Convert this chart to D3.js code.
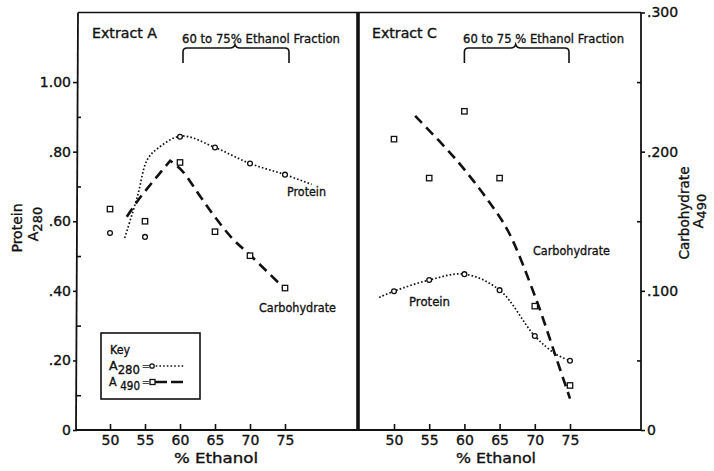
<!DOCTYPE html>
<html><head><meta charset="utf-8">
<script src="https://cdn.jsdelivr.net/npm/d3@7"></script>
<style>
html,body{margin:0;padding:0;background:#fff;}
svg{display:block;}
text{font-family:"DejaVu Sans",sans-serif;fill:#111;stroke:#111;stroke-width:0.35px;}
</style></head>
<body>
<svg id="c" width="714" height="471"></svg>
<script>
// ---- data ----
const ethanol = [50, 55, 60, 65, 70, 75];
const xTickLabels = ["50", "55", "60", "65", "70", "75"];
// Extract A (left panel) – A280 protein circles, A490 carbohydrate squares (left axis units)
const aProtein = [0.566, 0.555, 0.843, 0.812, 0.766, 0.734];
const aCarb    = [0.635, 0.600, 0.769, 0.570, 0.501, 0.408];
// Extract A hand-drawn curves
const aProteinCurveX = [52.1, 53.9, 55.3, 56.8, 60.2, 65, 70, 75, 78.8];
const aProteinCurveY = [0.552, 0.670, 0.776, 0.809, 0.845, 0.812, 0.766, 0.734, 0.706];
// carbohydrate curve of Extract A: rising limb and falling limb meet at a sharp peak
const aCarbRiseX = [52.4, 54.3, 58.6];
const aCarbRiseY = [0.613, 0.668, 0.774];
const aCarbFallX = [58.6, 60.3, 63, 65, 67.5, 70, 75];
const aCarbFallY = [0.774, 0.745, 0.668, 0.612, 0.550, 0.503, 0.405];
// Extract C (right panel) – protein on left axis, carbohydrate on right axis
const cProtein = [0.399, 0.431, 0.448, 0.402, 0.270, 0.199];
const cCarb    = [0.209, 0.181, 0.229, 0.181, 0.089, 0.032];
const cProteinCurveX = [47.9, 50, 55, 60, 65, 70, 73, 75];
const cProteinCurveY = [0.381, 0.399, 0.431, 0.448, 0.402, 0.270, 0.218, 0.199];
const cCarbCurveX = [53.0, 58.7, 63.5, 66.2, 70.1, 73.0, 75.0];
const cCarbCurveY = [0.2257, 0.195, 0.164, 0.143, 0.0952, 0.0524, 0.0226];
// axis ticks
const leftMajor = [0, 0.2, 0.4, 0.6, 0.8, 1.0];
const leftMajorLabels = ["0", ".20", ".40", ".60", ".80", "1.00"];
const leftMinor = [0.1, 0.3, 0.5, 0.7, 0.9];
const rightMajor = [0, 0.1, 0.2, 0.3];
const rightMajorLabels = ["0", ".100", ".200", ".300"];
const rightMinor = [0.05, 0.15, 0.25];

// ---- layout ----
const svg = d3.select("#c");
const yTop = 12.5, yBot = 430;
const Lx0 = 78, divX = 358, Rx1 = 641;

const yL = d3.scaleLinear().domain([0, 1.2]).range([yBot, yTop]);
const yR = d3.scaleLinear().domain([0, 0.3]).range([yBot, yTop]);
const xA = d3.scaleLinear().domain([50, 75]).range([110, 285]);
const xC = d3.scaleLinear().domain([50, 75]).range([394, 570]);

const ink = "#111";

// frame
const frame = svg.append("g").attr("stroke", ink).attr("fill", "none");
frame.append("line").attr("x1", Lx0).attr("x2", Rx1).attr("y1", yTop).attr("y2", yTop).attr("stroke-width", 1.6);
frame.append("line").attr("x1", Lx0 - 2).attr("x2", Rx1).attr("y1", yBot).attr("y2", yBot).attr("stroke-width", 2);
frame.append("line").attr("x1", Lx0).attr("x2", Lx0 - 2).attr("y1", yTop).attr("y2", yBot).attr("stroke-width", 1.8);
frame.append("line").attr("x1", divX).attr("x2", divX).attr("y1", yTop).attr("y2", yBot).attr("stroke-width", 3.6);
frame.append("line").attr("x1", Rx1).attr("x2", Rx1).attr("y1", yTop).attr("y2", yBot).attr("stroke-width", 1.8);

function styleAxis(g) {
  g.select(".domain").remove();
  g.selectAll("line").attr("stroke", ink).attr("stroke-width", 1.6);
  g.selectAll("text").attr("font-size", 14).attr("fill", ink)
    .style("font-family", '"DejaVu Sans",sans-serif');
}

// left axis
svg.append("g").attr("transform", `translate(${Lx0 - 1},0)`)
  .call(d3.axisLeft(yL).tickValues(leftMajor).tickSize(4).tickPadding(2)
    .tickFormat((d, i) => leftMajorLabels[i]))
  .call(styleAxis);
svg.append("g").attr("transform", `translate(${Lx0 - 1},0)`)
  .call(d3.axisRight(yL).tickValues(leftMinor).tickSize(4).tickFormat(""))
  .call(styleAxis);

// right axis
svg.append("g").attr("transform", `translate(${Rx1},0)`)
  .call(d3.axisRight(yR).tickValues(rightMajor).tickSize(4).tickPadding(2)
    .tickFormat((d, i) => rightMajorLabels[i]))
  .call(styleAxis);
svg.append("g").attr("transform", `translate(${Rx1},0)`)
  .call(d3.axisLeft(yR).tickValues(rightMinor).tickSize(4).tickFormat(""))
  .call(styleAxis);

// bottom axes (ticks pointing up)
[xA, xC].forEach(xs => {
  svg.append("g").attr("transform", `translate(0,${yBot})`)
    .call(d3.axisTop(xs).tickValues(ethanol).tickSize(6).tickFormat(""))
    .call(styleAxis);
  svg.append("g").attr("transform", `translate(0,${yBot})`)
    .call(d3.axisBottom(xs).tickValues(ethanol).tickSize(0).tickPadding(5)
      .tickFormat((d, i) => xTickLabels[i]))
    .call(styleAxis);
});

// axis titles
svg.append("text").attr("x", 216).attr("y", 463).attr("text-anchor", "middle")
  .attr("font-size", 14).attr("textLength", 84).attr("lengthAdjust", "spacingAndGlyphs").text("% Ethanol");
svg.append("text").attr("x", 496).attr("y", 463).attr("text-anchor", "middle")
  .attr("font-size", 14).attr("textLength", 80).attr("lengthAdjust", "spacingAndGlyphs").text("% Ethanol");

// left title (rotated)
const lt = svg.append("g").attr("transform", "translate(22,228) rotate(-90)");
lt.append("text").attr("text-anchor", "middle").attr("font-size", 14)
  .attr("textLength", 49).attr("lengthAdjust", "spacingAndGlyphs").text("Protein");
const lt2 = svg.append("g").attr("transform", "translate(38,224) rotate(-90)");
const lt2t = lt2.append("text").attr("text-anchor", "middle").attr("font-size", 14);
lt2t.append("tspan").text("A");
lt2t.append("tspan").attr("dy", 4).attr("font-size", 13).text("280");

const rt = svg.append("g").attr("transform", "translate(689,213) rotate(-90)");
rt.append("text").attr("text-anchor", "middle").attr("font-size", 14)
  .attr("textLength", 93).attr("lengthAdjust", "spacingAndGlyphs").text("Carbohydrate");
const rt2 = svg.append("g").attr("transform", "translate(703,211) rotate(-90)");
const rt2t = rt2.append("text").attr("text-anchor", "middle").attr("font-size", 14);
rt2t.append("tspan").text("A");
rt2t.append("tspan").attr("dy", 3).attr("font-size", 13).text("490");

// panel annotations
function ann(x, y, len, str, size) {
  return svg.append("text").attr("x", x).attr("y", y).attr("font-size", size || 13)
    .attr("textLength", len).attr("lengthAdjust", "spacingAndGlyphs").text(str);
}
ann(92, 38, 65, "Extract  A", 13.5);
ann(372, 38, 65, "Extract  C", 13.5);
ann(182, 43, 158, "60 to 75% Ethanol Fraction", 13);
ann(463, 43, 161, "60 to 75 % Ethanol Fraction", 13);

function brace(x0, x1) {
  const xm = (x0 + x1) / 2 - 1;
  const p = `M${x0},63 V52 Q${x0},48 ${x0 + 4},48 H${xm - 5} Q${xm - 1},48 ${xm},44.5 Q${xm + 1},48 ${xm + 5},48 H${x1 - 4} Q${x1},48 ${x1},52 V63`;
  svg.append("path").attr("d", p).attr("fill", "none").attr("stroke", ink).attr("stroke-width", 1.6);
}
brace(xA(60) + 3, xA(75) + 4);
brace(xC(60), xC(75) - 1);

// curves
const dotted = { "stroke-width": 1.7, "stroke-dasharray": "1.6 2.1" };
const dashed = { "stroke-width": 2.6, "stroke-dasharray": "10 6" };
function pathD(xs, ys, xScale, yScale) {
  const pts = xs.map((x, i) => [x, ys[i]]);
  return d3.line().x(d => xScale(d[0])).y(d => yScale(d[1]))
    .curve(d3.curveCatmullRom.alpha(0.5))(pts);
}
function drawPath(d, style) {
  const p = svg.append("path").attr("d", d).attr("fill", "none").attr("stroke", ink);
  Object.entries(style).forEach(([k, v]) => p.attr(k, v));
}
drawPath(pathD(aProteinCurveX, aProteinCurveY, xA, yL), dotted);
drawPath(pathD(aCarbRiseX, aCarbRiseY, xA, yL) +
         pathD(aCarbFallX, aCarbFallY, xA, yL).replace(/^M/, "L"), dashed);
drawPath(pathD(cProteinCurveX, cProteinCurveY, xC, yL), dotted);
drawPath(pathD(cCarbCurveX, cCarbCurveY, xC, yR), dashed);

// markers
function circles(vals, xScale, yScale) {
  svg.append("g").selectAll("circle").data(vals).join("circle")
    .attr("cx", (d, i) => xScale(ethanol[i])).attr("cy", d => yScale(d)).attr("r", 2.4)
    .attr("fill", "#fff").attr("stroke", ink).attr("stroke-width", 1.3);
}
function squares(vals, xScale, yScale) {
  svg.append("g").selectAll("rect").data(vals).join("rect")
    .attr("x", (d, i) => xScale(ethanol[i]) - 2.7).attr("y", d => yScale(d) - 2.7)
    .attr("width", 5.4).attr("height", 5.4)
    .attr("fill", "#fff").attr("stroke", ink).attr("stroke-width", 1.3);
}
circles(aProtein, xA, yL);
squares(aCarb, xA, yL);
circles(cProtein, xC, yL);
squares(cCarb, xC, yR);

// series labels
ann(287, 196, 39, "Protein", 13);
ann(259, 312, 77, "Carbohydrate", 13);
ann(533, 255, 77, "Carbohydrate", 13);
ann(409, 306, 41, "Protein", 13);

// key
svg.append("rect").attr("x", 101).attr("y", 333).attr("width", 99).attr("height", 66)
  .attr("fill", "#fff").attr("stroke", ink).attr("stroke-width", 1.6);
ann(110, 354, 20, "Key", 13);
const k1 = svg.append("text").attr("x", 109).attr("y", 370).attr("font-size", 13)
  .attr("textLength", 31).attr("lengthAdjust", "spacingAndGlyphs");
k1.append("tspan").text("A");
k1.append("tspan").attr("dy", 4).attr("font-size", 12).text("280");
const k2 = svg.append("text").attr("x", 109).attr("y", 386).attr("font-size", 13)
  .attr("textLength", 31).attr("lengthAdjust", "spacingAndGlyphs");
k2.append("tspan").text("A ");
k2.append("tspan").attr("dy", 4).attr("font-size", 12).text("490");
svg.append("text").attr("x", 142).attr("y", 369).attr("font-size", 9).text("=");
svg.append("text").attr("x", 142).attr("y", 385).attr("font-size", 9).text("=");
svg.append("line").attr("x1", 152).attr("x2", 184).attr("y1", 366).attr("y2", 366)
  .attr("stroke", ink).attr("stroke-width", 1.6).attr("stroke-dasharray", "1.6 2.1");
svg.append("circle").attr("cx", 152).attr("cy", 366).attr("r", 2.2)
  .attr("fill", "#fff").attr("stroke", ink).attr("stroke-width", 1.3);
svg.append("line").attr("x1", 155).attr("x2", 185).attr("y1", 382).attr("y2", 382)
  .attr("stroke", ink).attr("stroke-width", 2.4).attr("stroke-dasharray", "12 4");
svg.append("rect").attr("x", 150).attr("y", 379.5).attr("width", 5).attr("height", 5)
  .attr("fill", "#fff").attr("stroke", ink).attr("stroke-width", 1.3);
</script>
</body></html>
